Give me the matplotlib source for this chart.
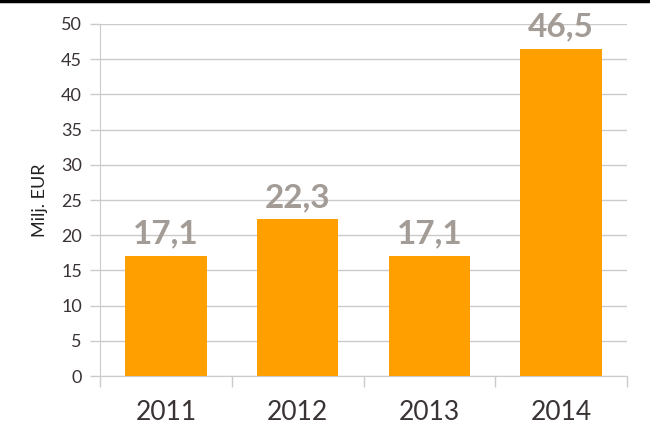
import matplotlib.pyplot as plt
from matplotlib.lines import Line2D

years = ['2011', '2012', '2013', '2014']
values = [17.1, 22.3, 17.1, 46.5]
labels = ['17,1', '22,3', '17,1', '46,5']

plt.rcParams['font.family'] = ['Lato', 'DejaVu Sans']

fig = plt.figure(figsize=(6.5, 4.44), dpi=100)
ax = fig.add_axes([100 / 650, 68 / 444, 527 / 650, 352 / 444])

x = range(len(years))
ax.bar(x, values, width=0.62, color='#FFA000', zorder=3)

for xi, v, lab in zip(x, values, labels):
    ax.annotate(lab, (xi, v), xytext=(0, 5), textcoords='offset points',
                ha='center', va='bottom', fontsize=24, fontweight='bold',
                color='#A39B96', zorder=4)

grid_c = '#CFCACA'
ax.set_ylim(0, 50)
ax.set_xlim(-0.5, 3.5)
ax.set_yticks(range(0, 51, 5))
ax.yaxis.grid(True, color=grid_c, linewidth=1, zorder=0)

# category boundary ticks, labels centred
ax.set_xticks([-0.5, 0.5, 1.5, 2.5, 3.5])
ax.set_xticklabels([])
ax.set_xticks(list(x), minor=True)
ax.set_xticklabels(years, minor=True)
ax.tick_params(axis='x', which='major', length=8, color=grid_c, width=1)
ax.tick_params(axis='x', which='minor', length=0, pad=17, labelsize=19, labelcolor='#3A3333')
ax.tick_params(axis='y', length=7, color=grid_c, width=1, labelsize=13, labelcolor='#3A3333', pad=6)

for s in ['top', 'right']:
    ax.spines[s].set_visible(False)
ax.spines['left'].set_color(grid_c)
ax.spines['bottom'].set_color(grid_c)

ax.set_ylabel('Milj. EUR', fontsize=13, color='#222222', labelpad=9)

fig.add_artist(Line2D([0, 1], [0.997, 0.997], color='black', linewidth=2.5,
                      transform=fig.transFigure))

fig.savefig('out.png', dpi=100)
